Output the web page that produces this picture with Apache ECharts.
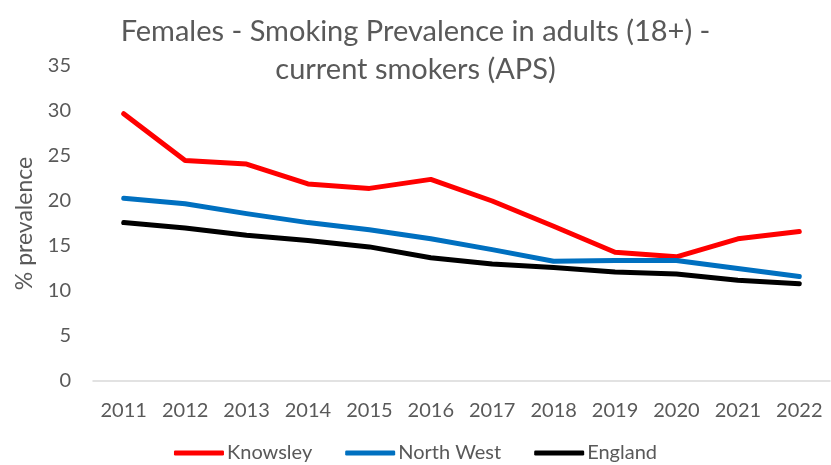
<!DOCTYPE html>
<html>
<head>
<meta charset="utf-8">
<script src="https://cdn.jsdelivr.net/npm/echarts@6/dist/echarts.min.js"></script>
<style>
  html, body { margin: 0; padding: 0; background: #fff; }
  #chart { width: 831px; height: 465px; }
</style>
</head>
<body>
<div id="chart"></div>
<script>
// Female smoking prevalence (%), Annual Population Survey
const years = ['2011', '2012', '2013', '2014', '2015', '2016', '2017', '2018', '2019', '2020', '2021', '2022'];
const knowsley = [29.7, 24.5, 24.1, 21.9, 21.4, 22.4, 20.0, 17.2, 14.3, 13.8, 15.8, 16.6];
const northWest = [20.3, 19.7, 18.6, 17.6, 16.8, 15.8, 14.6, 13.3, 13.4, 13.4, 12.5, 11.6];
const england = [17.6, 17.0, 16.2, 15.6, 14.9, 13.7, 13.0, 12.6, 12.1, 11.9, 11.2, 10.8];
const yTicks = { min: 0, max: 35, interval: 5 };

const textColor = '#595959';
const font = 'Lato, "Open Sans", sans-serif';

const chart = echarts.init(document.getElementById('chart'), null, { renderer: 'canvas' });

function lineSeries(name, data, color) {
  return {
    name: name,
    type: 'line',
    data: data,
    symbol: 'none',
    smooth: false,
    lineStyle: { color: color, width: 5, cap: 'round', join: 'round' },
    itemStyle: { color: color },
    emphasis: { disabled: true }
  };
}

chart.setOption({
  animation: false,
  backgroundColor: '#ffffff',
  title: {
    text: 'Females - Smoking Prevalence in adults (18+) -\ncurrent smokers (APS)',
    left: 'center',
    top: 8,
    textStyle: {
      color: textColor,
      fontFamily: font,
      fontSize: 29,
      fontWeight: 'normal',
      lineHeight: 38
    }
  },
  grid: { left: 93, right: 1, top: 66, bottom: 84, containLabel: false },
  legend: {
    bottom: -3,
    left: 'center',
    itemWidth: 50,
    itemHeight: 5,
    itemGap: 33,
    icon: 'roundRect',
    textStyle: { color: textColor, fontFamily: font, fontSize: 20, padding: [0, 0, 0, -2] },
    data: ['Knowsley', 'North West', 'England']
  },
  xAxis: {
    type: 'category',
    data: years,
    boundaryGap: true,
    axisLine: { lineStyle: { color: '#d9d9d9', width: 1.5 } },
    axisTick: { show: false },
    axisLabel: { color: textColor, fontFamily: font, fontSize: 20, margin: 20 }
  },
  yAxis: {
    type: 'value',
    min: yTicks.min,
    max: yTicks.max,
    interval: yTicks.interval,
    name: '% prevalence',
    nameLocation: 'middle',
    nameGap: 57,
    nameTextStyle: { color: textColor, fontFamily: font, fontSize: 23 },
    axisLine: { show: false },
    axisTick: { show: false },
    splitLine: { show: false },
    axisLabel: { color: textColor, fontFamily: font, fontSize: 20, margin: 22 }
  },
  series: [
    lineSeries('Knowsley', knowsley, '#ff0000'),
    lineSeries('North West', northWest, '#0070c0'),
    lineSeries('England', england, '#000000')
  ]
});
</script>
</body>
</html>
